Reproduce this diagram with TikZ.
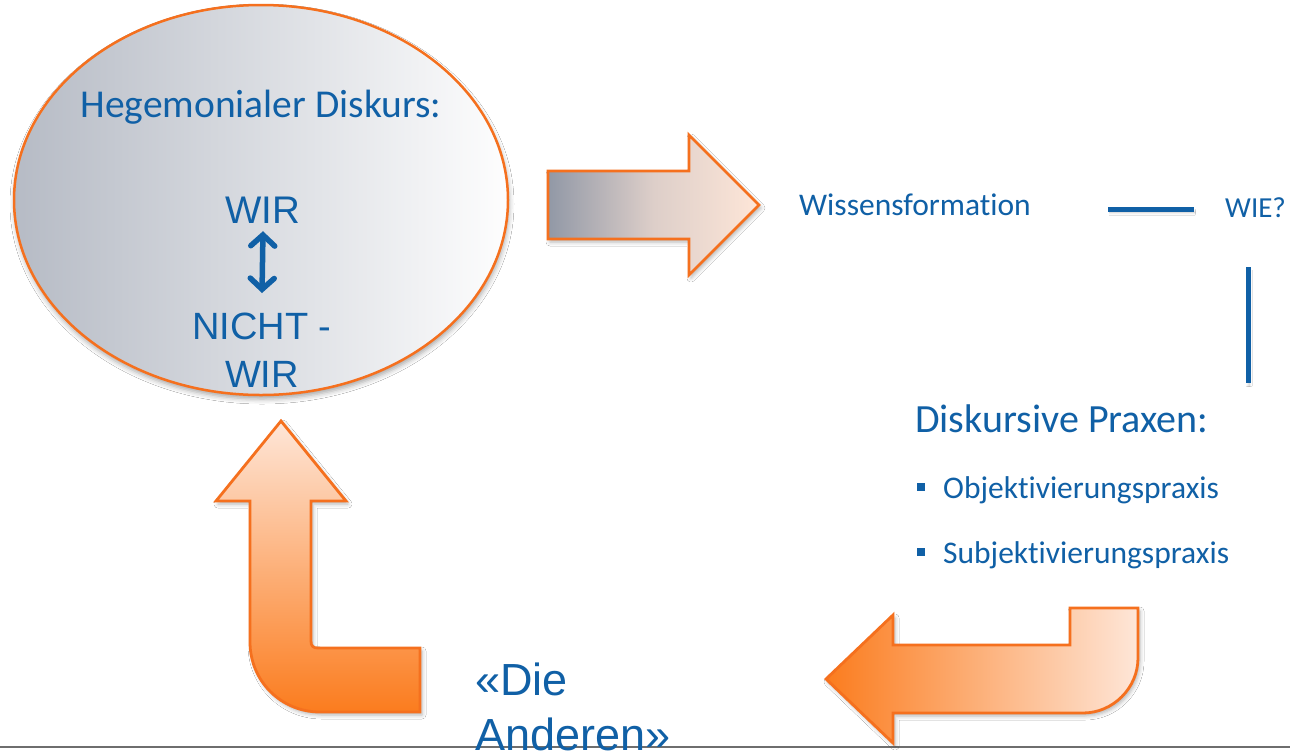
\documentclass[tikz,border=0pt]{standalone}
\usepackage{fontspec}
\setmainfont{Carlito}[Ligatures=NoCommon]
\newfontfamily\arialf{Liberation Sans}
\usetikzlibrary{shadows.blur,arrows.meta,shapes.geometric}
\definecolor{tblue}{RGB}{16,96,166}
\definecolor{torange}{RGB}{245,112,30}
\definecolor{peach}{RGB}{254,230,216}
\definecolor{deeporange}{RGB}{251,124,30}
\definecolor{ellgray}{RGB}{182,187,197}
\definecolor{arrgray}{RGB}{145,152,166}
\definecolor{rulegray}{RGB}{110,110,110}
\tikzset{
  bigarrow/.style={draw=torange, line width=2.8pt, line join=miter,
    blur shadow={shadow xshift=2pt, shadow yshift=-3pt, shadow blur radius=4pt, shadow opacity=30}},
  bluetext/.style={text=tblue, inner sep=0pt},
  blueline/.style={draw=tblue, line width=5pt},
  dblarrow/.style={draw=tblue, line width=5.5pt, line cap=round,
    {Straight Barb[length=11pt,width=24pt,line cap=round]}-{Straight Barb[length=11pt,width=24pt,line cap=round]}},
}
\begin{document}
\begin{tikzpicture}[x=1pt,y=-1pt]
\useasboundingbox (0,0) rectangle (1290,753);
\fill[white] (0,0) rectangle (1290,753);

% bottom rule
\coordinate (rl) at (0,747);
\coordinate (rr) at (1290,747);
\draw[rulegray, line width=2.2pt] (rl) -- (rr);

% ellipse
\node[ellipse, draw=torange, line width=2.5pt, minimum width=494pt, minimum height=390pt, inner sep=0pt,
  left color=ellgray, right color=white!98!ellgray,
  blur shadow={shadow xshift=1pt, shadow yshift=-4pt, shadow blur radius=5pt, shadow opacity=35}] (ell) at (261,200) {};

\node[bluetext, anchor=base, font=\fontsize{39.5}{44}\selectfont] (heg) at (261,117) {Hegemonialer Diskurs:};
\node[bluetext, anchor=base, font=\arialf\fontsize{38.5}{44}\selectfont] (wir) at (263,223) {WIR};
\node[bluetext, anchor=north, align=center, font=\arialf\fontsize{38}{48}\selectfont] (nicht) at (262,313) {NICHT -\\WIR};
\draw[dblarrow] ([yshift=-8pt]wir.south) -- ([yshift=20pt]nicht.north);

% right arrow
\path[bigarrow, left color=arrgray, right color=peach, middle color=peach!70!arrgray]
  (548,171) -- (689,171) -- (689,135) -- (759,205) -- (689,275) -- (689,239) -- (548,239) -- cycle;

% up L-arrow
\path[bigarrow, top color=peach, bottom color=deeporange]
  (281,421) -- (346,501) -- (311,501) -- (311,641) .. controls (311,646) and (313,648) .. (318,648)
  -- (420,648) -- (420,712) -- (320,712) .. controls (281,712) and (250,681) .. (250,642)
  -- (250,501) -- (216,501) -- cycle;

% bottom left-pointing L-arrow
\path[bigarrow, left color=deeporange, right color=peach]
  (826,679) -- (893,615) -- (893,645) -- (1070,645) -- (1070,608) -- (1138,608) -- (1138,658)
  .. controls (1138,688) and (1113,713) .. (1083,713) -- (893,713) -- (893,743) -- cycle;

% right side texts
\node[bluetext, anchor=base west, font=\fontsize{31.5}{36}\selectfont] (wiss) at (799,215) {Wissensformation};
\node[bluetext, anchor=base west, font=\fontsize{29}{34}\selectfont] (wie) at (1225,217) {WIE?};
\coordinate (h1) at (1108,209);
\coordinate (h2) at (1194,209);
\draw[blueline, blur shadow={shadow xshift=1pt, shadow yshift=-3pt, shadow blur radius=3pt, shadow opacity=25}] (h1) -- (h2);
\coordinate (v1) at (1248,267);
\coordinate (v2) at (1248,383);
\draw[blueline, blur shadow={shadow xshift=1pt, shadow yshift=-3pt, shadow blur radius=3pt, shadow opacity=25}] (v1) -- (v2);

\node[bluetext, anchor=base west, font=\fontsize{40}{44}\selectfont] (disk) at (915,432) {Diskursive Praxen:};
\fill[tblue] (917,483) rectangle (925,491);
\node[bluetext, anchor=base west, font=\fontsize{31.5}{36}\selectfont] (obj) at (943,498) {Objektivierungspraxis};
\fill[tblue] (917,548) rectangle (925,556);
\node[bluetext, anchor=base west, font=\fontsize{31.5}{36}\selectfont] (subj) at (943,563) {Subjektivierungspraxis};

% Die Anderen
\node[bluetext, anchor=north west, align=left, font=\arialf\fontsize{45}{55}\selectfont] (anderen) at (475,663) {«Die\\Anderen»};
\end{tikzpicture}
\end{document}
